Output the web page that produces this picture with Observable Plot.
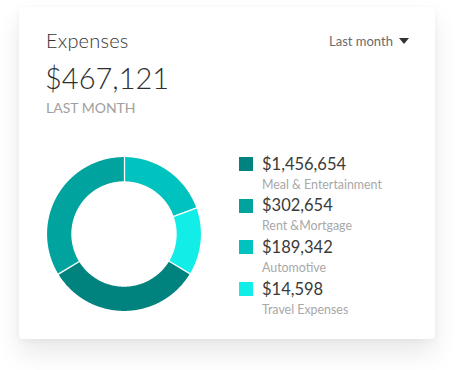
<!DOCTYPE html>
<html>
<head>
<meta charset="utf-8">
<script src="https://cdn.jsdelivr.net/npm/d3@7"></script>
<script src="https://cdn.jsdelivr.net/npm/@observablehq/plot@0.6"></script>
<style>
  html, body { margin: 0; padding: 0; background: #fff; width: 455px; height: 370px; overflow: hidden; }
  body { font-family: Lato, "Noto Sans", sans-serif; position: relative; }
  .card { position: absolute; left: 19px; top: 7px; width: 416px; height: 332px; background: #fff; border-radius: 4px;
          box-shadow: 0 14px 26px rgba(0,0,0,0.09), 0 2px 6px rgba(0,0,0,0.04); }
  .abs { position: absolute; white-space: nowrap; line-height: 1; }
  #title { left: 46px; top: 30px; font-size: 20px; color: #333; font-weight: 300; letter-spacing: 0.2px; }
  #total { left: 45px; top: 62.5px; font-size: 29px; color: #2e2e2e; font-weight: 300; }
  #period { left: 46px; top: 101px; font-size: 14px; color: #a0a0a0; font-weight: 400; }
  #pick { left: 329px; top: 35px; font-size: 13px; color: #6a6a6a; font-weight: 400; }
  #tri { left: 399px; top: 38px; width: 0; height: 0; border-left: 5px solid transparent; border-right: 5px solid transparent; border-top: 6px solid #333; }
  #chart { position: absolute; left: 44px; top: 154px; }
  .sw { position: absolute; width: 14px; height: 14px; }
  .amt { font-size: 16.5px; color: #3a3a3a; font-weight: 400; }
  .lab { font-size: 12.4px; color: #a8a8a8; font-weight: 400; }
</style>
</head>
<body>
<div class="card"></div>
<div id="title" class="abs">Expenses</div>
<div id="total" class="abs">$467,121</div>
<div id="period" class="abs">LAST MONTH</div>
<div id="pick" class="abs">Last month</div>
<div id="tri" class="abs"></div>
<div id="chart"></div>
<div id="legend"></div>
<script>
// ---- data ----
const categories = ["Meal & Entertainment", "Rent &Mortgage", "Automotive", "Travel Expenses"];
const amounts = ["$1,456,654", "$302,654", "$189,342", "$14,598"];
const colors = ["#00837e", "#00a39d", "#00c2bf", "#12ede7"];
// share of the ring (percent) for each slice, as drawn in the picture
const sliceShares = [32.8, 33.6, 19.4, 14.2];
// clockwise drawing order starting at 12 o'clock
const sliceOrder = ["Automotive", "Travel Expenses", "Meal & Entertainment", "Rent &Mortgage"];
const headerTotal = "$467,121";

// ---- build arc polygons ----
const inner = 0.685, outer = 1;
const points = [];
const seps = [];
let acc = 0;
for (const cat of sliceOrder) {
  const share = sliceShares[categories.indexOf(cat)];
  const a0 = acc / 100 * 2 * Math.PI;
  const a1 = (acc + share) / 100 * 2 * Math.PI;
  const n = Math.max(2, Math.ceil((a1 - a0) / (Math.PI / 360)));
  for (let i = 0; i <= n; i++) {
    const a = a0 + (a1 - a0) * i / n;
    points.push({cat, xo: outer * Math.sin(a), yo: outer * Math.cos(a), xi: inner * Math.sin(a), yi: inner * Math.cos(a)});
  }
  seps.push({x1: (inner - 0.02) * Math.sin(a0), y1: (inner - 0.02) * Math.cos(a0), x2: (outer + 0.02) * Math.sin(a0), y2: (outer + 0.02) * Math.cos(a0)});
  acc += share;
}

const dom = [-1.04, 1.04];
const chart = Plot.plot({
  width: 160, height: 160,
  margin: 0,
  x: {domain: dom, axis: null},
  y: {domain: dom, axis: null},
  color: {domain: categories, range: colors},
  marks: [
    Plot.area(points, {x1: "xo", y1: "yo", x2: "xi", y2: "yi", z: "cat", fill: "cat", curve: "linear"}),
    Plot.link(seps, {x1: "x1", y1: "y1", x2: "x2", y2: "y2", stroke: "white", strokeWidth: 1.3})
  ]
});
document.getElementById("chart").appendChild(chart);

// ---- legend ----
const legend = document.getElementById("legend");
const swTops = [157, 198.6, 240.3, 282];
categories.forEach((c, i) => {
  const top = swTops[i];
  const sw = document.createElement("div");
  sw.className = "sw";
  sw.style.left = "239px"; sw.style.top = top + "px"; sw.style.background = colors[i];
  legend.appendChild(sw);
  const a = document.createElement("div");
  a.className = "abs amt"; a.textContent = amounts[i];
  a.style.left = "262px"; a.style.top = (top - 1.5) + "px";
  legend.appendChild(a);
  const l = document.createElement("div");
  l.className = "abs lab"; l.textContent = c;
  l.style.left = "262px"; l.style.top = (top + 21.5) + "px";
  legend.appendChild(l);
});
document.getElementById("total").textContent = headerTotal;
</script>
</body>
</html>
